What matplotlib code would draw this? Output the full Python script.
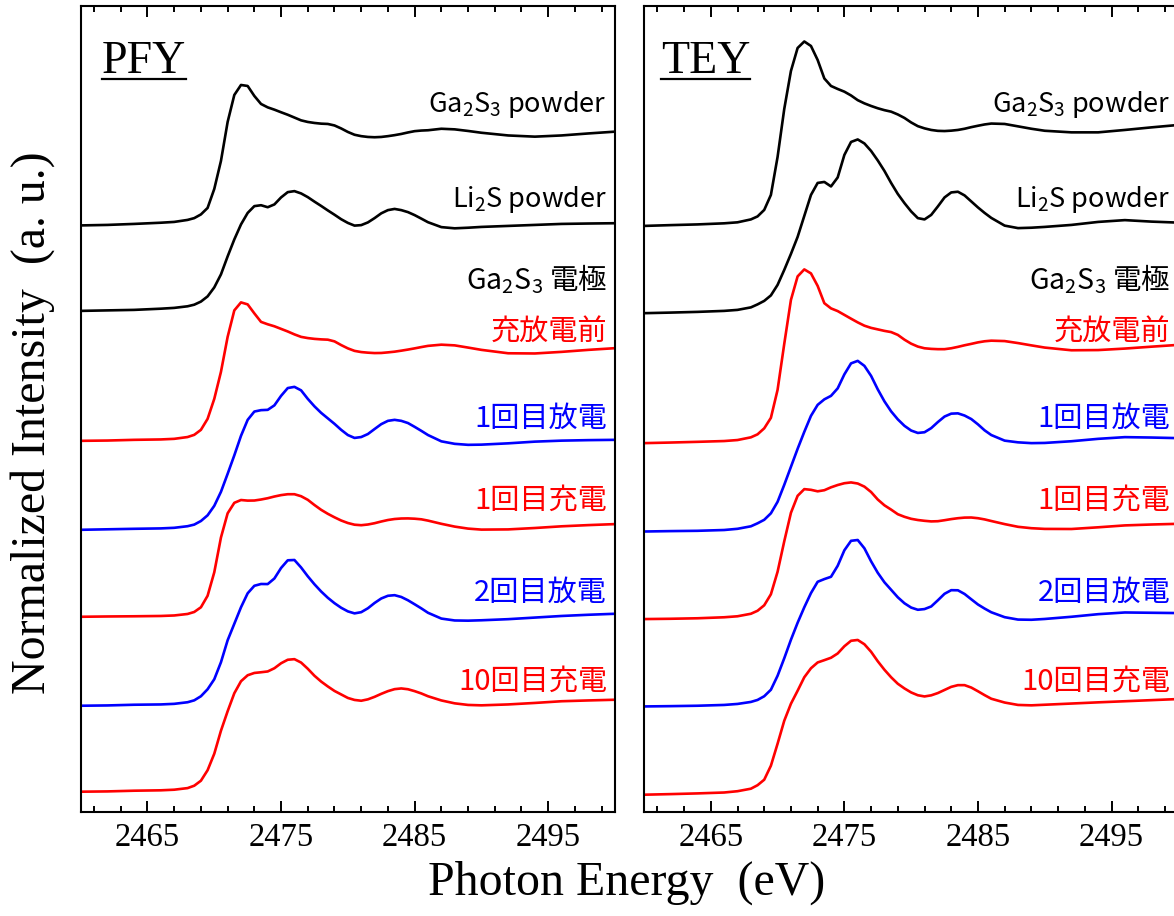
import matplotlib
matplotlib.use("Agg")
import matplotlib.pyplot as plt
from matplotlib.ticker import FixedLocator

plt.rcParams['font.family'] = ['Liberation Serif']
plt.rcParams['mathtext.fontset'] = 'custom'
plt.rcParams['mathtext.rm'] = 'Noto Sans'
plt.rcParams['mathtext.default'] = 'regular'

# --- S K-edge XANES (a.u., curves already stacked) ---
energy = [2460, 2462, 2464, 2466, 2467,
          2468, 2468.5, 2469, 2469.5, 2470, 2470.5, 2471, 2471.5, 2472, 2472.5,
          2473, 2473.5, 2474, 2474.5, 2475, 2475.5, 2476, 2476.5, 2477, 2477.5,
          2478, 2478.5, 2479, 2479.5, 2480, 2480.5, 2481, 2481.5, 2482, 2482.5,
          2483, 2483.5, 2484, 2484.5, 2485, 2485.5, 2486,
          2487, 2488, 2489, 2490, 2492, 2494, 2496, 2498, 2500]

# PFY panel
pfy_ga2s3 = [586.5, 587, 588, 589.2, 590,
             592, 593.8, 597.5, 604, 623, 651, 690, 717, 727, 726,
             716, 708, 704.6, 702.3, 699.7, 697.2, 694.4, 691.6, 690, 689,
             688.3, 688, 686.5, 683.5, 680, 677.2, 675.8, 675, 674.7, 675,
             675.8, 676.8, 678, 679.5, 680.8, 681.4, 681.7,
             683.2, 682.6, 681, 679.2, 676.5, 675.3, 676.5, 678.5, 680.3]
pfy_li2s = [501, 501.5, 502, 503.2, 504,
            505.6, 507.2, 510.3, 515.5, 524.5, 537.5, 555.5, 572.5, 587.5, 599,
            605.8, 606.7, 604.7, 607.5, 614.5, 619.8, 620.8, 618.5, 614.8, 610.3,
            606, 601.5, 597.2, 592.7, 589, 586.3, 586.8, 589.5, 593.8, 598.6,
            601.8, 603, 601.8, 599.8, 596.8, 593.3, 589.7,
            584.8, 583.6, 584.2, 585, 586, 587, 588, 588.4, 588.7]
pfy_pristine = [371, 371.3, 372, 372.4, 373,
                374.8, 377, 382, 393, 413, 440, 475, 501.5, 509.5, 507.5,
                498.5, 490, 487.6, 485.6, 483, 480.4, 477.5, 475, 473.8, 473,
                472.5, 472.2, 470.5, 466.8, 463.5, 461, 459.8, 459.2, 458.8, 458.9,
                459.5, 460.2, 461.2, 462.3, 463.5, 464.8, 466,
                467.2, 466.5, 464.3, 462, 458.6, 458.4, 460, 462, 463.7]
pfy_dis1 = [282, 282.5, 283, 283.4, 284,
            285.6, 287.2, 290.8, 296.5, 306, 320, 338, 356.5, 376, 392,
            400.3, 401.7, 402, 406.5, 416, 423.8, 425, 421.5, 413, 405.5,
            399, 393.5, 388, 382, 376.8, 373.9, 374.8, 377.8, 382.8, 387.7,
            391, 392, 391, 388.8, 385, 381, 376.8,
            370.5, 368, 367, 367.2, 368.5, 370.2, 371.2, 371.7, 372]
pfy_chg1 = [195, 195.3, 195.5, 195.8, 196.3,
            197.8, 199.8, 204.5, 216, 239.5, 274.3, 298.5, 309, 311.8, 311.2,
            311.3, 312.3, 313.6, 315.3, 316.7, 317.6, 317.6, 315.6, 312, 306.8,
            302, 298, 294.5, 291.3, 288.8, 287.1, 286.6, 287.3, 288.6, 290.3,
            291.8, 292.8, 293.3, 293.4, 293.1, 292.5, 291.2,
            288, 285.2, 283.2, 282.2, 282.4, 283.8, 285.5, 286.7, 287.7]
pfy_dis2 = [106, 106.3, 107, 107.3, 107.9,
            109.5, 111.4, 115.5, 122.5, 132.5, 149.5, 171.5, 188, 204.5, 218.5,
            226, 227.8, 227.7, 233.3, 243.8, 251.5, 251.8, 244.3, 235.5, 227.5,
            220.3, 214, 208.6, 204, 200.4, 198.4, 199.6, 203.5, 208.8, 213.3,
            216, 216.6, 214.8, 211.5, 207.5, 203.4, 199,
            193.2, 191.3, 191.1, 191.5, 192.6, 194.2, 195.8, 197, 198]
pfy_chg10 = [20, 20.3, 21, 21.4, 22,
             23.6, 26, 31, 41.5, 58, 81, 100.5, 118.5, 130.5, 136.5,
             138.8, 139.5, 140.3, 143.5, 148.5, 152, 152.6, 149.2, 143, 136,
             130.2, 125.3, 120.8, 117.3, 113.8, 111.8, 111, 112.4, 114.9, 117.9,
             120.6, 122.6, 123.3, 122.5, 120.6, 118.3, 115.5,
             111.3, 108.4, 106.8, 106.4, 107.3, 108.8, 110.5, 111.3, 112]

# TEY panel
tey_ga2s3 = [586, 586.8, 587.5, 588.6, 589.6,
             592.5, 595.5, 602, 617, 655, 703, 741, 764, 770.5, 766,
             752, 733.5, 726, 723, 720.3, 716.5, 711.8, 708.6, 706, 703.7,
             701.8, 700.3, 697.5, 694, 689.5, 685.8, 683.6, 682, 681.1, 680.9,
             681.3, 682, 683.2, 684.8, 686.2, 687.5, 688.4,
             688, 685.6, 683.2, 681.2, 679.6, 679.6, 682, 684.6, 687]
tey_li2s = [498.7, 499.3, 500, 501, 502,
            504.5, 507.5, 511, 516.5, 527, 542, 558, 575, 596, 617,
            629, 630, 625.5, 634.5, 657, 670, 672.5, 668.5, 661, 651.5,
            641, 629, 618, 608.8, 600.5, 593.8, 592.5, 597, 605.5, 614.5,
            619.5, 620.2, 616.5, 610.5, 604.5, 599, 594,
            586.3, 583.8, 584.2, 585, 587, 590, 591.8, 590.3, 589.3]
tey_pristine = [368.7, 369.3, 370, 370.8, 371.8,
                374.5, 377.5, 383.5, 394, 422, 468, 512, 535.5, 542.5, 538.5,
                526, 508.7, 503.5, 500.8, 497, 493.2, 489.5, 486.2, 484, 482.5,
                481, 479.8, 477, 472.2, 468.2, 465.3, 463.6, 463, 462.7, 462.7,
                463.6, 465, 466.6, 468, 469.5, 470.6, 471.2,
                470.8, 468.8, 466.5, 464.3, 461.6, 461.8, 463.3, 465.2, 467]
tey_dis1 = [280.3, 280.7, 281, 281.8, 283,
            285.5, 288.5, 292, 298.5, 310, 327, 345, 363, 380, 396,
            407, 412.5, 416, 423.5, 437.5, 448.5, 451, 446, 436, 422.5,
            410.5, 400.5, 392.5, 386, 381.3, 378.9, 379.6, 383.7, 389.8, 395.3,
            398.2, 398.5, 396.3, 392.8, 387.5, 381.5, 376.8,
            371.2, 369.5, 368.7, 368.9, 370.6, 373, 374.7, 374.3, 373.7]
tey_chg1 = [192.7, 193, 193.5, 194.5, 195.5,
            198, 201, 206.5, 217.5, 240, 270.5, 299, 316, 322.7, 322,
            320.5, 321.6, 324.5, 326.8, 328.6, 329.4, 328.3, 325.2, 319.8, 312.3,
            306.5, 302.2, 297.6, 295, 293, 291.8, 291, 290.4, 290.6, 291.6,
            292.7, 293.6, 294.2, 294.3, 293.6, 292.4, 290.8,
            287.7, 285, 283.6, 282.9, 282.8, 284.5, 286.4, 287.3, 288]
tey_dis2 = [105.3, 105.6, 106, 106.8, 107.8,
            109.8, 111.8, 115.5, 122, 136, 153.5, 172, 189, 204.5, 218.7,
            230, 232.7, 235, 246, 261.5, 271, 271.8, 263.5, 250.5, 239,
            229.5, 222, 214.5, 208.5, 204.2, 202, 202.7, 205.3, 211.5, 218,
            221.6, 221.5, 217.8, 212.5, 207.3, 203.2, 199.5,
            194.6, 192.2, 192, 192.8, 195, 197.6, 199.3, 199, 198.7]
tey_chg10 = [17, 17.6, 18.3, 19.2, 20.5,
             23, 26.5, 32, 46, 68, 91, 108, 121, 134.5, 143.5,
             149.3, 151.6, 154, 158.3, 165.5, 171, 171.8, 167.5, 160, 150.5,
             142, 134.5, 128, 123.3, 119.3, 116.5, 115.3, 116.4, 118.7, 121.8,
             124.9, 126.6, 126.6, 124.2, 120.5, 116.6, 113,
             109.2, 106.8, 106.4, 107, 108.2, 109.4, 110.5, 111.6, 112.7]

curve_colors = ['black', 'black', 'red', 'blue', 'red', 'blue', 'red']
pfy_curves = [pfy_ga2s3, pfy_li2s, pfy_pristine, pfy_dis1, pfy_chg1, pfy_dis2, pfy_chg10]
tey_curves = [tey_ga2s3, tey_li2s, tey_pristine, tey_dis1, tey_chg1, tey_dis2, tey_chg10]

label_texts = [r'Ga$_2$S$_3$ powder', r'Li$_2$S powder', r'Ga$_2$S$_3$ 電極', '充放電前',
               '1回目放電', '1回目充電', '2回目放電', '10回目充電']
label_colors = ['black', 'black', 'black', 'red', 'blue', 'red', 'blue', 'red']
label_sizes = [19.5, 19.5, 20.5, 21, 21, 21, 21, 21]
label_base = [700, 605, 523, 472, 385, 303, 211, 122]

cjk = ['Noto Sans CJK JP', 'DejaVu Sans']

fig = plt.figure(figsize=(11.74, 9.16), dpi=100)
ax_pfy = fig.add_axes([80.7 / 1174, 104.3 / 916, 534.3 / 1174, 805.7 / 916])
ax_tey = fig.add_axes([644 / 1174, 104.3 / 916, 534.3 / 1174, 805.7 / 916])

titles = []
for ax, curves, name, tx in [(ax_pfy, pfy_curves, 'PFY', 0.040), (ax_tey, tey_curves, 'TEY', 0.032)]:
    for vals, c in zip(curves, curve_colors):
        ax.plot(energy, vals, color=c, lw=1.9, solid_joinstyle='round')
    for t, c, fs, yb in zip(label_texts, label_colors, label_sizes, label_base):
        ax.text(2499.4, yb, t, color=c, fontsize=fs, family=cjk, ha='right', va='baseline')
    ax.set_xlim(2460, 2500)
    ax.set_ylim(0, 806)
    ax.set_yticks([])
    ax.xaxis.set_major_locator(FixedLocator([2465, 2475, 2485, 2495]))
    ax.xaxis.set_minor_locator(FixedLocator(list(range(2461, 2500, 2))))
    ax.tick_params(axis='x', which='both', direction='in', top=True, width=1.4,
                   labelsize=23.5, pad=8)
    ax.tick_params(axis='x', which='major', length=8)
    ax.tick_params(axis='x', which='minor', length=4.5)
    for s in ax.spines.values():
        s.set_linewidth(1.5)
    titles.append((ax, ax.text(tx, 0.9165, name, transform=ax.transAxes, fontsize=33,
                                ha='left', va='baseline')))

fig.text(33 / 1174, 0.539, 'Normalized Intensity  (a. u.)', rotation=90, fontsize=34.5,
         ha='center', va='center')
fig.text(627 / 1174, 0.023, 'Photon Energy  (eV)', fontsize=34.5, ha='center', va='baseline')

# underline the panel titles
fig.canvas.draw()
r = fig.canvas.get_renderer()
for ax, t in titles:
    bb = t.get_window_extent(r).transformed(ax.transAxes.inverted())
    ax.plot([bb.x0, bb.x1], [0.909, 0.909], transform=ax.transAxes, color='black', lw=1.6,
            clip_on=False)

fig.savefig('out.png', dpi=100)
